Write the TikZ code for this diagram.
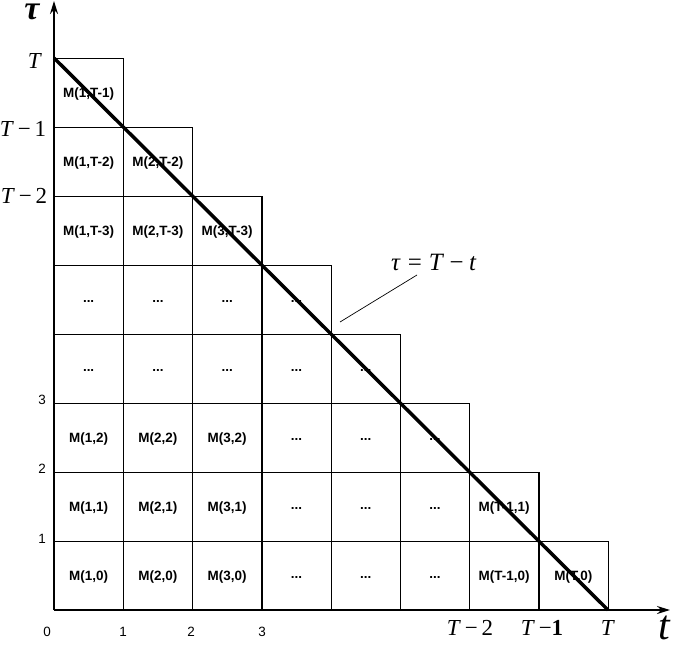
\documentclass[tikz,border=0pt]{standalone}
\usepackage{fontspec}
\setmainfont{Liberation Sans}
\newfontfamily\tnr{Liberation Serif}
\usetikzlibrary{arrows.meta}
\newcommand\TminusK[1]{\textit{T}\,−\,#1}
\begin{document}
\begin{tikzpicture}[x=1bp,y=-1bp,
  gridline/.style={draw, line width=0.9bp},
  thickv/.style={line width=1.8bp},
  axisline/.style={line width=2bp, -{Stealth[length=13bp,width=8bp]}},
  diag/.style={line width=3.5bp},
  leader/.style={line width=0.7bp},
  mlab/.style={font=\fontsize{13.5}{15}\selectfont\bfseries, inner sep=0pt},
  num/.style={font=\fontsize{13.5}{15}\selectfont, inner sep=0pt},
  tlab/.style={font=\tnr\fontsize{23}{25}\selectfont, inner sep=0pt},
  eqlab/.style={font=\tnr\fontsize{25}{27}\selectfont, inner sep=0pt},
  biglab/.style={font=\tnr\fontsize{34}{36}\selectfont\bfseries\itshape, inner sep=0pt}
]
\useasboundingbox (0,0) rectangle (676,651);
\def\cw{69.25}\def\ch{69}
% cells
\foreach \j in {0,...,7}{
  \pgfmathtruncatemacro\n{7-\j}
  \foreach \i in {0,...,\n}{
    \draw[gridline] (54+\cw*\i,610-\ch*\j) rectangle ++(\cw,-\ch);
  }
}
% thicker verticals
\draw[thickv] (54+2*\cw,610) -- (54+2*\cw,127);
\draw[thickv] (54+3*\cw,610) -- (54+3*\cw,196);
\draw[thickv] (54+7*\cw,610) -- (54+7*\cw,472);
% cell labels
\foreach \i/\j/\t in {
  0/7/{M(1,T-1)},
  0/6/{M(1,T-2)},1/6/{M(2,T-2)},
  0/5/{M(1,T-3)},1/5/{M(2,T-3)},2/5/{M(3,T-3)},
  0/4/{...},1/4/{...},2/4/{...},3/4/{...},
  0/3/{...},1/3/{...},2/3/{...},3/3/{...},4/3/{...},
  0/2/{M(1,2)},1/2/{M(2,2)},2/2/{M(3,2)},3/2/{...},4/2/{...},5/2/{...},
  0/1/{M(1,1)},1/1/{M(2,1)},2/1/{M(3,1)},3/1/{...},4/1/{...},5/1/{...},6/1/{M(T-1,1)},
  0/0/{M(1,0)},1/0/{M(2,0)},2/0/{M(3,0)},3/0/{...},4/0/{...},5/0/{...},6/0/{M(T-1,0)},7/0/{M(T,0)}}{
  \node[mlab] (c\i-\j) at (54+\cw*\i+\cw/2, 610-\ch*\j-\ch/2+2) {\t};
}
% axes
\coordinate (O) at (54,610);
\coordinate (ytip) at (54,1);
\coordinate (xtip) at (670,610);
\draw[axisline] (O) -- (ytip);
\draw[axisline] (O) -- (xtip);
% diagonal
\coordinate (dtop) at (54,58);
\coordinate (dbot) at (608,610);
\draw[diag] (dtop) -- (dbot);
% leader + formula
\node[eqlab, anchor=west] (eq) at (391,262) {\textit{τ}\hspace{0.28em}=\hspace{0.28em}\textit{T}\hspace{0.22em}−\hspace{0.22em}\textit{t}};
\coordinate (lA) at (417,275);
\coordinate (lB) at (340,322);
\draw[leader] (lA) -- (lB);
% axis labels
\node[biglab, anchor=base] (tau) at (32,20) {τ};
\node[biglab, font=\tnr\fontsize{42}{44}\selectfont\itshape] (tt) at (664,628) {t};
\node[tlab] (yT) at (35,61) {\textit{T}};
\node[tlab] (yT1) at (23,129) {\TminusK{1}};
\node[tlab] (yT2) at (24,196) {\TminusK{2}};
\node[num] (y3) at (42,400) {3};
\node[num] (y2) at (42,469) {2};
\node[num] (y1) at (42,539) {1};
\node[num] (x0) at (47,632) {0};
\node[num] (x1) at (123,632) {1};
\node[num] (x2) at (191,632) {2};
\node[num] (x3) at (262,632) {3};
\node[tlab] (xT2) at (470,628) {\TminusK{2}};
\node[tlab] (xT1) at (542,628) {\textit{T}\,−\textbf{1}};
\node[tlab] (xT) at (608,628) {\textit{T}};
\end{tikzpicture}
\end{document}
